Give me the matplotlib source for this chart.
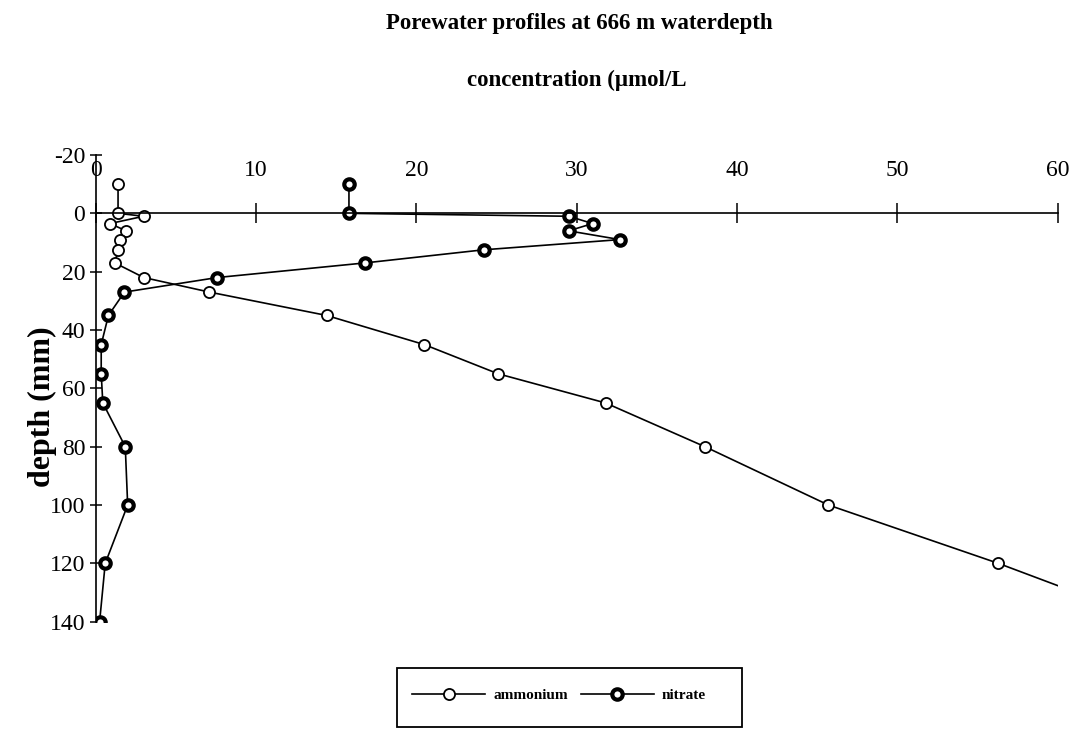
import matplotlib
matplotlib.use("Agg")
import matplotlib.pyplot as plt
from matplotlib.patches import Rectangle

plt.rcParams['font.family'] = ['Liberation Serif', 'DejaVu Serif']
plt.rcParams['axes.unicode_minus'] = False

# depth below sediment surface (mm), negative = overlying water
depth = [-10, 0, 1, 3.5, 6, 9, 12.5, 17, 22, 27, 35, 45, 55, 65, 80, 100, 120, 140]

# concentrations (umol/L)
ammonium = [1.4, 1.4, 3.0, 0.9, 1.9, 1.5, 1.4, 1.2, 3.0, 7.1, 14.4, 20.5, 25.1, 31.8, 38.0, 45.7, 56.3, 66.0]
nitrate = [15.8, 15.8, 29.5, 31.0, 29.5, 32.7, 24.2, 16.8, 7.6, 1.8, 0.8, 0.35, 0.35, 0.45, 1.85, 2.0, 0.6, 0.25]

xticks = [0, 10, 20, 30, 40, 50, 60]
yticks = [-20, 0, 20, 40, 60, 80, 100, 120, 140]

W, H = 1083, 736
fig = plt.figure(figsize=(W / 100, H / 100), dpi=100)
ax = fig.add_axes([95.6 / W, 1 - 621.7 / H, (1057.7 - 95.6) / W, (621.7 - 155) / H])

ax.plot(ammonium, depth, color='black', lw=1.2, marker='o', ms=8,
        mfc='white', mec='black', mew=1.3, label='ammonium')
ax.plot(nitrate, depth, color='black', lw=1.2, marker='o', ms=7.5,
        mfc='white', mec='black', mew=3.0, label='nitrate')

ax.set_xlim(0, 60)
ax.set_ylim(140, -20)

# axes cross at depth 0
for s in ['bottom', 'right']:
    ax.spines[s].set_visible(False)
ax.spines['top'].set_position(('data', 0))
ax.spines['top'].set_linewidth(1.2)
ax.spines['left'].set_linewidth(1.2)
ax.xaxis.set_ticks_position('top')
ax.set_xticks(xticks)
ax.set_yticks(yticks)
ax.tick_params(axis='x', direction='inout', length=14, width=1.1, pad=16, labelsize=17)
ax.tick_params(axis='y', direction='inout', length=9, width=1.1, pad=3, labelsize=17)

fig.text(579 / W, 1 - 24 / H, 'Porewater profiles at 666 m waterdepth',
         ha='center', va='center', fontsize=16.5, fontweight='bold')
fig.text(577 / W, 1 - 80 / H, 'concentration (\u00b5mol/L',
         ha='center', va='center', fontsize=16.5, fontweight='bold')
fig.text(42 / W, 1 - 407 / H, 'depth (mm)', rotation=90,
         ha='center', va='center', fontsize=23, fontweight='bold')

# legend box
fig.patches.append(Rectangle((397 / W, 1 - 727 / H), 345 / W, 59 / H,
                             transform=fig.transFigure, fill=False,
                             edgecolor='black', lw=1.3))
ax.legend(loc='center', bbox_to_anchor=(559 / W, 1 - 695 / H),
          bbox_transform=fig.transFigure, ncol=2, frameon=False,
          handlelength=4.8, handletextpad=0.5,
          columnspacing=0.85, borderpad=0, borderaxespad=0,
          prop={'weight': 'bold', 'size': 11})

fig.savefig('out.png', dpi=100)
